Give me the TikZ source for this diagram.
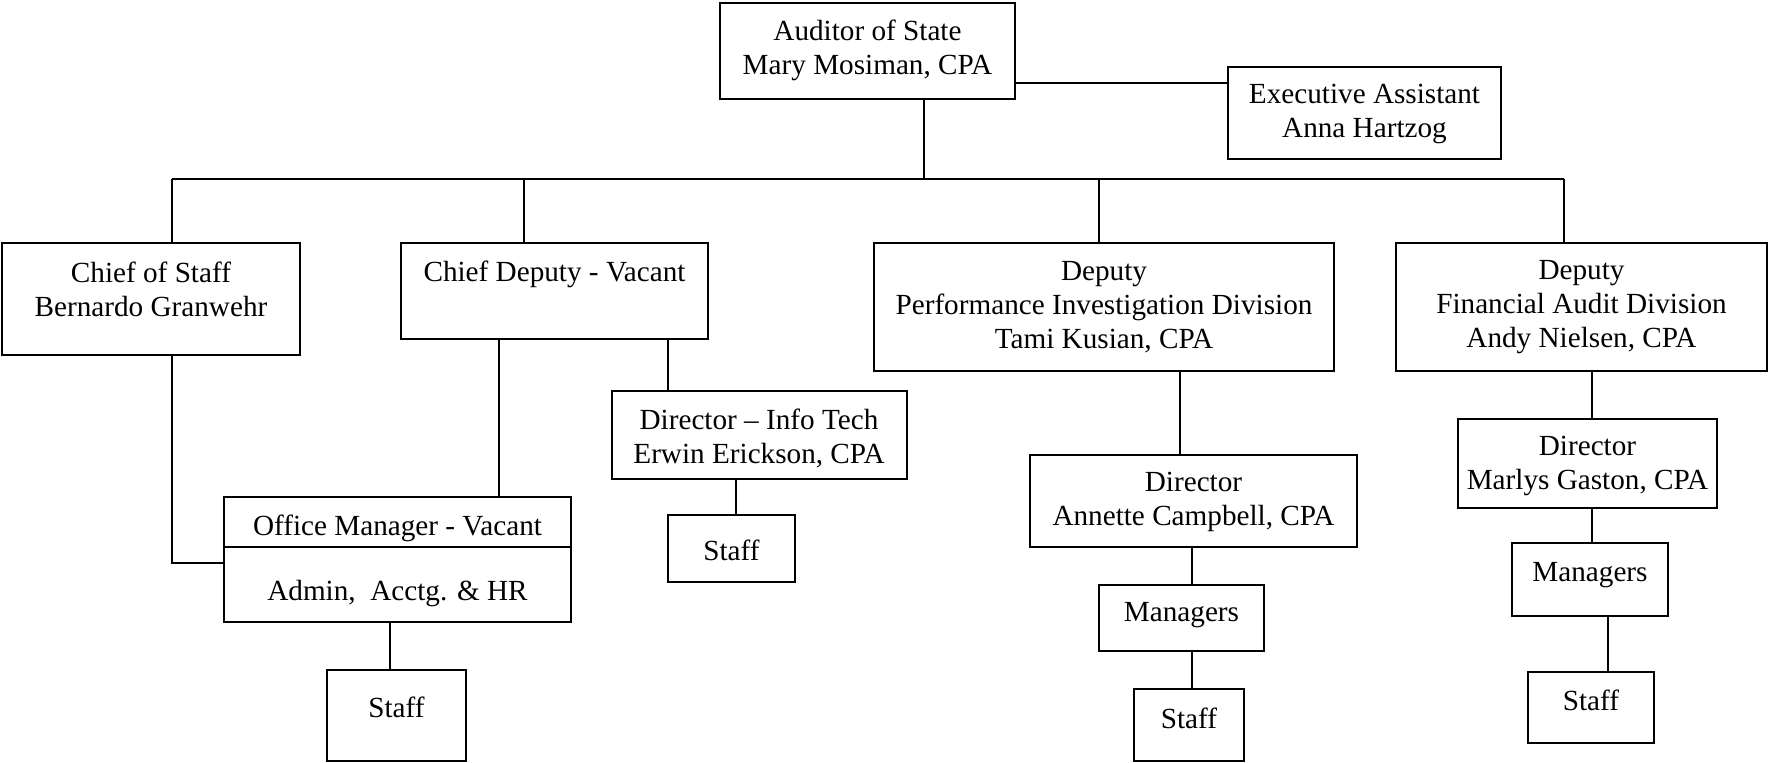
\documentclass[tikz,border=0pt]{standalone}
\usepackage{fontspec}
\setmainfont{Liberation Serif}
\tikzset{
  orgbox/.style={draw, line width=1pt, rectangle, inner sep=0pt},
  orgtext/.style={align=center, inner sep=0pt, font=\fontsize{14.6}{17}\selectfont},
  orgline/.style={line width=1pt}
}
\begin{document}
\begin{tikzpicture}[x=0.5pt, y=-0.5pt]
                    \useasboundingbox (0,0) rectangle (1769,763);
                    % boxes (sizes in pt, half the pixel size)
                    \node[orgbox, minimum width=147.5pt, minimum height=48pt] (aud) at (867.5,51) {};
                    \node[orgtext] (aud-t) at (867.5,50) {Auditor of State\\Mary Mosiman, CPA};
                    \node[orgbox, minimum width=136.5pt, minimum height=46pt] (exec) at (1364.5,113) {};
                    \node[orgtext] (exec-t) at (1364.5,114) {Executive Assistant\\Anna Hartzog};
                    \node[orgbox, minimum width=149pt, minimum height=56pt] (cos) at (151,299) {};
                    \node[orgtext] (cos-t) at (151,289) {Chief of Staff\\Bernardo Granwehr};
                    \node[orgbox, minimum width=153.5pt, minimum height=48pt] (cdep) at (554.5,291) {};
                    \node[orgtext] (cdep-t) at (554.5,274) {Chief Deputy - Vacant};
                    \node[orgbox, minimum width=230pt, minimum height=64pt] (dpid) at (1104,307) {};
                    \node[orgtext] (dpid-t) at (1104,307) {Deputy\\Performance Investigation Division\\Tami Kusian, CPA};
                    \node[orgbox, minimum width=185.5pt, minimum height=64pt] (dfad) at (1581.5,307) {};
                    \node[orgtext] (dfad-t) at (1581.5,307) {Deputy\\Financial Audit Division\\Andy Nielsen, CPA};
                    \node[orgbox, minimum width=147.5pt, minimum height=44pt] (dit) at (759,435) {};
                    \node[orgtext] (dit-t) at (759,438) {Director -- Info Tech\\Erwin Erickson, CPA};
                    \node[orgbox, minimum width=63.5pt, minimum height=33.5pt] (stit) at (731.5,548.5) {};
                    \node[orgtext] (stit-t) at (731.5,550) {Staff};
                    \node[orgbox, minimum width=173.5pt, minimum height=25pt] (omtop) at (397.5,522) {};
                    \node[orgtext] (omtop-t) at (397.5,528) {Office Manager - Vacant};
                    \node[orgbox, minimum width=173.5pt, minimum height=37.5pt] (ombot) at (397.5,584.5) {};
                    \node[orgtext] (ombot-t) at (397.5,594) {Admin,\ \ Acctg. \& HR};
                    \node[orgbox, minimum width=69.5pt, minimum height=45.5pt] (stom) at (396.5,715.5) {};
                    \node[orgtext] (stom-t) at (396.5,707) {Staff};
                    \node[orgbox, minimum width=163.5pt, minimum height=46pt] (dac) at (1193.5,501) {};
                    \node[orgtext] (dac-t) at (1193.5,502) {Director\\Annette Campbell, CPA};
                    \node[orgbox, minimum width=82.5pt, minimum height=33pt] (mac) at (1181.5,618) {};
                    \node[orgtext] (mac-t) at (1181.5,615) {Managers};
                    \node[orgbox, minimum width=55pt, minimum height=36pt] (stac) at (1189,725) {};
                    \node[orgtext] (stac-t) at (1189,718) {Staff};
                    \node[orgbox, minimum width=129.5pt, minimum height=44.5pt] (dmg) at (1587.5,463.5) {};
                    \node[orgtext] (dmg-t) at (1587.5,466) {Director\\Marlys Gaston, CPA};
                    \node[orgbox, minimum width=78pt, minimum height=36.5pt] (mmg) at (1590,579.5) {};
                    \node[orgtext] (mmg-t) at (1590,575) {Managers};
                    \node[orgbox, minimum width=63pt, minimum height=35.5pt] (stmg) at (1591,707.5) {};
                    \node[orgtext] (stmg-t) at (1591,700) {Staff};
                    % bus and drops
                    \coordinate (bus) at (924,179);
                    \coordinate (b1) at (172,179);
                    \coordinate (b2) at (524,179);
                    \coordinate (b3) at (1099,179);
                    \coordinate (b4) at (1564,179);
                    \coordinate (k1) at (172,563);
                    \coordinate (ea) at (0,83);
                    \draw[orgline] (aud.south -| bus) -- (bus);
                    \draw[orgline] (aud.east |- ea) -- (exec.west |- ea);
                    \draw[orgline] (b1) -- (b4);
                    \draw[orgline] (b1) -- (b1 |- cos.north);
                    \draw[orgline] (b2) -- (b2 |- cdep.north);
                    \draw[orgline] (b3) -- (b3 |- dpid.north);
                    \draw[orgline] (b4) -- (b4 |- dfad.north);
                    % lower links
                    \draw[orgline] (k1 |- cos.south) -- (k1) -- (k1 -| ombot.west);
                    \draw[orgline] (cdep.south -| 499,0) -- (omtop.north -| 499,0);
                    \draw[orgline] (cdep.south -| 668,0) -- (dit.north -| 668,0);
                    \draw[orgline] (dit.south -| 736,0) -- (stit.north -| 736,0);
                    \draw[orgline] (ombot.south -| 390,0) -- (stom.north -| 390,0);
                    \draw[orgline] (dpid.south -| 1180,0) -- (dac.north -| 1180,0);
                    \draw[orgline] (dac.south -| 1192,0) -- (mac.north -| 1192,0);
                    \draw[orgline] (mac.south -| 1192,0) -- (stac.north -| 1192,0);
                    \draw[orgline] (dfad.south -| 1592,0) -- (dmg.north -| 1592,0);
                    \draw[orgline] (dmg.south -| 1592,0) -- (mmg.north -| 1592,0);
                    \draw[orgline] (mmg.south -| 1608,0) -- (stmg.north -| 1608,0);
                \end{tikzpicture}
\end{document}
